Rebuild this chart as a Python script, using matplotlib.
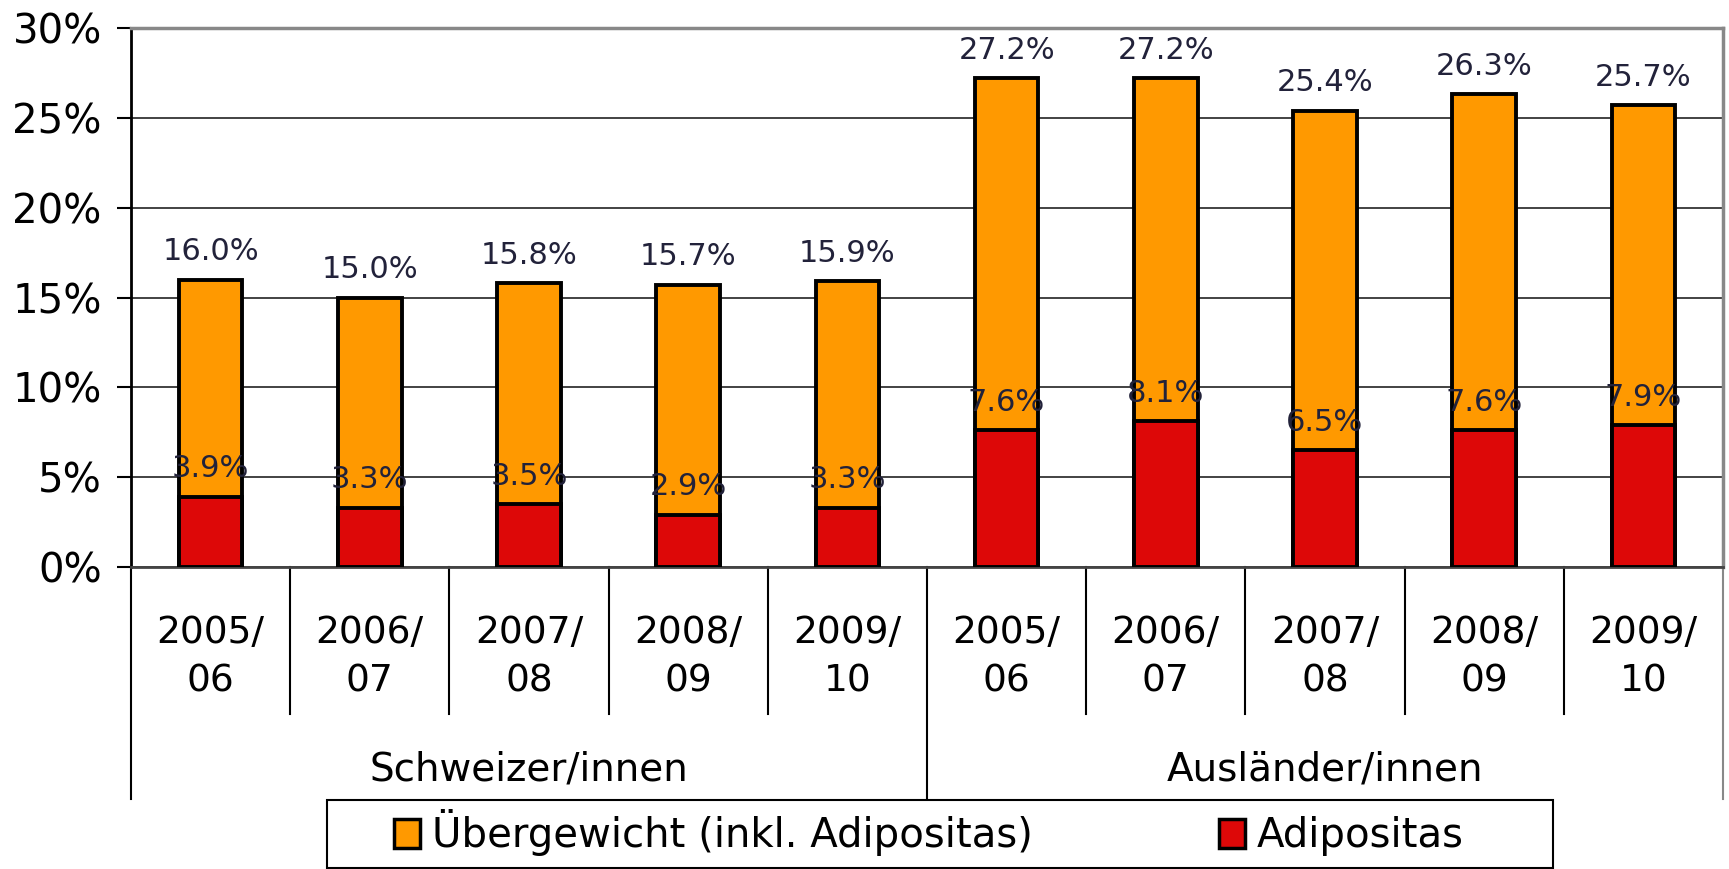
import matplotlib
matplotlib.use("Agg")
import matplotlib.pyplot as plt
import matplotlib.transforms as mtransforms
from matplotlib.patches import Patch, Rectangle

# data
years = ["2005/\n06", "2006/\n07", "2007/\n08", "2008/\n09", "2009/\n10"]
groups = ["Schweizer/innen", "Ausländer/innen"]
uebergewicht = [16.0, 15.0, 15.8, 15.7, 15.9, 27.2, 27.2, 25.4, 26.3, 25.7]
adipositas = [3.9, 3.3, 3.5, 2.9, 3.3, 7.6, 8.1, 6.5, 7.6, 7.9]
yticks = [0, 5, 10, 15, 20, 25, 30]

orange = "#FF9900"
red = "#DD0808"
label_col = "#22223a"

plt.rcParams["font.family"] = ["DejaVu Sans"]

fig = plt.figure(figsize=(17.29, 8.69), dpi=100)
ax = fig.add_axes([131 / 1729, 1 - 567 / 869, 1592 / 1729, 539 / 869])

x = list(range(len(uebergewicht)))
ax.bar(x, uebergewicht, width=0.40, color=orange, edgecolor="black", linewidth=2.8, zorder=3)
ax.bar(x, adipositas, width=0.40, color=red, edgecolor="black", linewidth=2.8, zorder=4)

for i in x:
    ax.annotate("%.1f%%" % uebergewicht[i], (i, uebergewicht[i]), xytext=(0, 14),
                textcoords="offset points", ha="center", va="baseline",
                fontsize=22, color=label_col, zorder=6)
    ax.annotate("%.1f%%" % adipositas[i], (i, adipositas[i]), xytext=(0, 14),
                textcoords="offset points", ha="center", va="baseline",
                fontsize=22, color=label_col, zorder=6)

ax.set_xlim(-0.5, len(x) - 0.5)
ax.set_ylim(0, 30)
ax.set_yticks(yticks)
ax.set_yticklabels(["%d%%" % t for t in yticks], fontsize=29)
ax.tick_params(axis="y", length=10, width=1.5, pad=11, direction="out")
ax.set_xticks([])
ax.grid(axis="y", color="#222222", linewidth=1.2, zorder=0)
ax.set_axisbelow(True)

ax.spines["left"].set_linewidth(2)
ax.spines["left"].set_color("black")
ax.spines["top"].set_color("#888888")
ax.spines["top"].set_linewidth(2.5)
ax.spines["right"].set_color("#888888")
ax.spines["right"].set_linewidth(2.5)
ax.spines["bottom"].set_color("#444444")
ax.spines["bottom"].set_linewidth(2)

# category axis below the plot
trans = mtransforms.blended_transform_factory(ax.transData, ax.transAxes)
for b in range(len(x) + 1):
    bx = b - 0.5
    bottom = -0.43 if b % 5 == 0 else -0.272
    col = "#888888" if b == len(x) else "black"
    ax.plot([bx, bx], [0, bottom], transform=trans, color=col, linewidth=1.5, clip_on=False)

for i in x:
    ax.text(i, -0.167, years[i % 5], transform=trans, ha="center", va="center",
            fontsize=27, linespacing=1.45)

for g, name in enumerate(groups):
    ax.text(g * 5 + 2, -0.375, name, transform=trans, ha="center", va="center", fontsize=28)

# legend with a plain rectangle frame
fig.patches.append(Rectangle((327 / 1729, 1 - 868 / 869), 1226 / 1729, 68 / 869,
                             transform=fig.transFigure, facecolor="white",
                             edgecolor="black", linewidth=1.5))
handles = [Patch(facecolor=orange, edgecolor="black", linewidth=2.5, label="Übergewicht (inkl. Adipositas)"),
           Patch(facecolor=red, edgecolor="black", linewidth=2.5, label="Adipositas")]
fig.legend(handles=handles, loc="center", bbox_to_anchor=(929 / 1729, 1 - 833 / 869),
           ncol=2, frameon=False, fontsize=29, handlelength=0.65, handleheight=0.75,
           handletextpad=0.3, columnspacing=4.6)

fig.savefig("out.png", dpi=100)
